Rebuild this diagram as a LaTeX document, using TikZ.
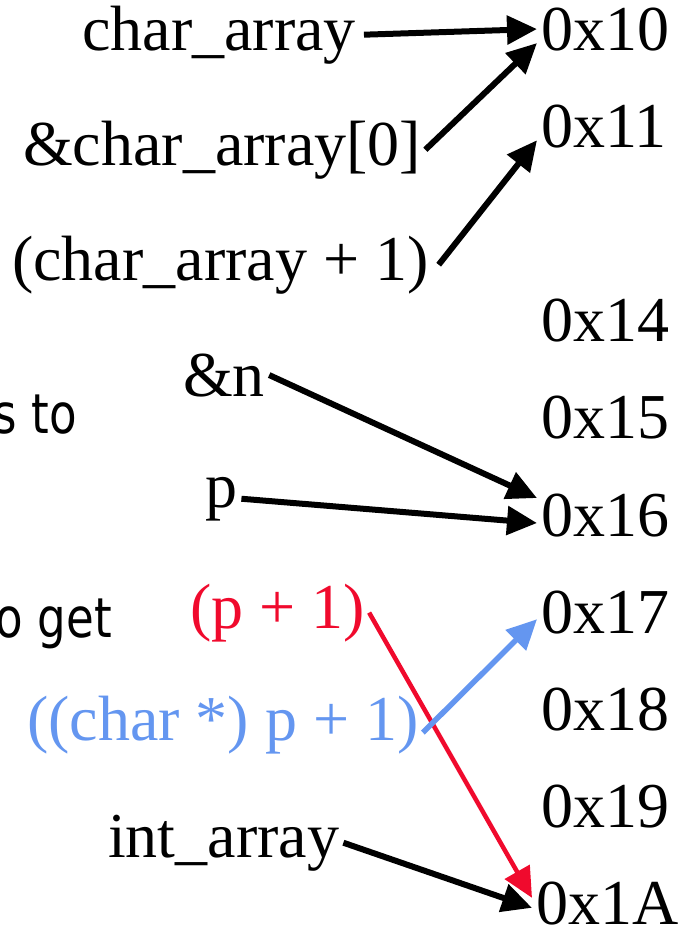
\documentclass[tikz,border=0pt]{standalone}
\usepackage{fontspec}
\setmainfont{Liberation Serif}
\newfontfamily\slidefont[FakeStretch=0.82]{DejaVu Sans}
\usetikzlibrary{arrows.meta}
\definecolor{ptrred}{RGB}{240,10,45}
\definecolor{ptrblue}{RGB}{100,150,240}

\begin{document}
\begin{tikzpicture}[x=1pt, y=-1pt,
  txt/.style={inner sep=4pt, anchor=base west, font=\fontsize{64}{70}\selectfont},
  side/.style={inner sep=0pt, anchor=base east, font=\slidefont\fontsize{55}{60}\selectfont},
  ptr/.style={line width=6pt, -{Triangle[length=30pt,width=28pt]}}]
\useasboundingbox (0,0) rectangle (679,926);
% addresses
\node[txt](n10) at (537,50){0x10};
\node[txt](n11) at (537,147.2){0x11};
\node[txt](n14) at (537,341.6){0x14};
\node[txt](n15) at (537,438.8){0x15};
\node[txt](n16) at (537,536){0x16};
\node[txt](n17) at (537,633.2){0x17};
\node[txt](n18) at (537,730.4){0x18};
\node[txt](n19) at (537,827.6){0x19};
\node[txt](n1a) at (532,924.8){0x1A};
% expressions
\node[txt](ca) at (78,50){char\_array};
\node[txt](ca0) at (19,165){\&char\_array[0]};
\node[txt](ca1) at (8,280){(char\_array + 1)};
\node[txt](amp) at (179,396){\&n};
\node[txt](p) at (201,507){p};
\node[txt, text=ptrred](p1) at (186,628){(p + 1)};
\node[txt, text=ptrblue](cp1) at (23,740){((char *) p + 1)};
\node[txt](ia) at (104,857){int\_array};
% cut-off slide text
\node[side](st) at (77,433){s to};
\node[side](og) at (112,637){o get};
% pointers
\draw[ptr] ([xshift=4pt]ca.east) -- (n10.west);
\draw[ptr] (ca0.east) -- ([yshift=-14pt]n10.west);
\draw[ptr] ([xshift=6pt]ca1.east) -- ([yshift=-14pt]n11.west);
\draw[ptr] (amp.east) -- ([yshift=17pt]n16.west);
\draw[ptr] (p.east) -- ([yshift=-8pt]n16.west);
\draw[ptr, ptrred, line width=4.5pt] (p1.east) -- ([yshift=6pt]n1a.west);
\draw[ptr, ptrblue, line width=5.5pt] ([yshift=-8pt]cp1.east) -- ([yshift=-7pt]n17.west);
\draw[ptr] (ia.east) -- ([yshift=-4pt]n1a.west);
\end{tikzpicture}
\end{document}
